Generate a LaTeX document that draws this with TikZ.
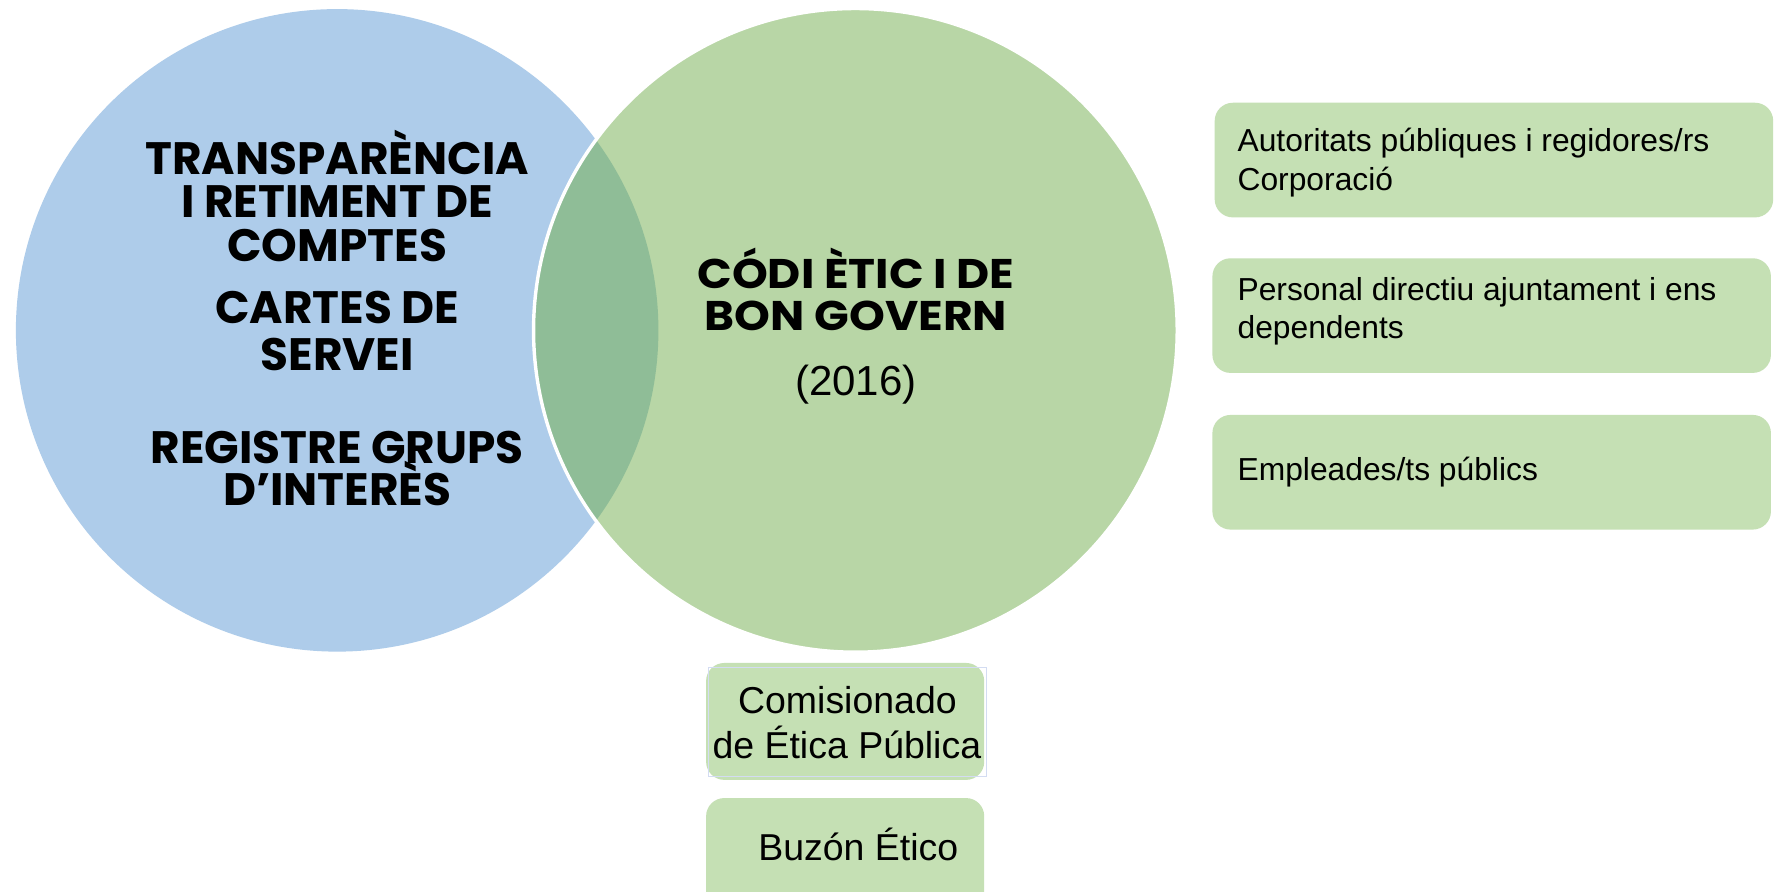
\documentclass[tikz,border=0pt]{standalone}
\usepackage{fontspec}
\setmainfont{Liberation Sans}
\newfontfamily\headfont{Poppins}
\newfontfamily\headfontwide{Poppins}[FakeStretch=1.1]
\definecolor{bluec}{HTML}{AECCEA}
\definecolor{greenc}{HTML}{B8D6A6}
\definecolor{lensc}{HTML}{8FBD97}
\definecolor{boxc}{HTML}{C5E0B4}
\definecolor{selc}{HTML}{D3DCF2}
\tikzset{
  bluetitle/.style={font=\headfont\bfseries\fontsize{40}{40}\selectfont, anchor=base, inner sep=0pt},
  greentitle/.style={font=\headfontwide\bfseries\fontsize{36.5}{36.5}\selectfont, anchor=base, inner sep=0pt},
  rbox/.style={fill=boxc, draw=none, rounded corners=16pt, rectangle, inner sep=0pt},
  rtext/.style={font=\fontsize{28}{34}\selectfont, anchor=base west, inner sep=0pt},
  btext/.style={font=\fontsize{33}{39.5}\selectfont, anchor=base, inner sep=0pt},
}
\begin{document}
\begin{tikzpicture}[x=1pt,y=-1pt]
\useasboundingbox (0,0) rectangle (1568,785);
\clip (0,0) rectangle (1568,785);
\fill[white] (0,0) rectangle (1568,785);
% circles
\fill[bluec] (297,291) circle (283);
\fill[greenc] (753.5,291) circle (283.5);
\begin{scope}
  \clip (297,291) circle (283);
  \fill[lensc] (753.5,291) circle (283.5);
\end{scope}
\draw[white, line width=3pt] (753.5,291) circle (283.5);
% blue texts
\node[bluetitle] (b1) at (297,154) {TRANSPARÈNCIA};
\node[bluetitle] (b2) at (297,192) {I RETIMENT DE};
\node[bluetitle] (b3) at (297,230.5) {COMPTES};
\node[bluetitle] (b4) at (297,285) {CARTES DE};
\node[bluetitle] (b5) at (297,326) {SERVEI};
\node[bluetitle] (b6) at (297,408) {REGISTRE GRUPS};
\node[bluetitle] (b7) at (297,445) {D’INTERÈS};
% green texts
\node[greentitle] (g1) at (754,254) {CÓDI ÈTIC I DE};
\node[greentitle] (g2) at (754,291) {BON GOVERN};
\node[font=\fontsize{37}{37}\selectfont, anchor=base, inner sep=0pt] (g3) at (754,348) {(2016)};
% right boxes
\node[rbox, minimum width=492pt, minimum height=101pt] (r1) at (1316,141) {};
\node[rbox, minimum width=492pt, minimum height=101pt] (r2) at (1314,278) {};
\node[rbox, minimum width=492pt, minimum height=101pt] (r3) at (1314,416) {};
\node[rtext] (t1) at (1090,133.6) {Autoritats públiques i regidores/rs};
\node[rtext] (t1b) at (1090,167.4) {Corporació};
\node[rtext] (t2) at (1090,265) {Personal directiu ajuntament i ens};
\node[rtext] (t2b) at (1090,298) {dependents};
\node[rtext] (t3) at (1090,423) {Empleades/ts públics};
% bottom boxes
\node[rbox, minimum width=245pt, minimum height=103pt] (c1) at (744.5,635.5) {};
\draw[selc, line width=1pt] (624,588) rectangle (869,684);
\node[btext] (c1a) at (746.5,628.5) {Comisionado};
\node[btext] (c1b) at (746,668) {de Ética Pública};
\node[rbox, minimum width=245pt, minimum height=120pt] (c2) at (744.5,763) {};
\node[btext] (c2a) at (756,757.7) {Buzón Ético};
\end{tikzpicture}
\end{document}
